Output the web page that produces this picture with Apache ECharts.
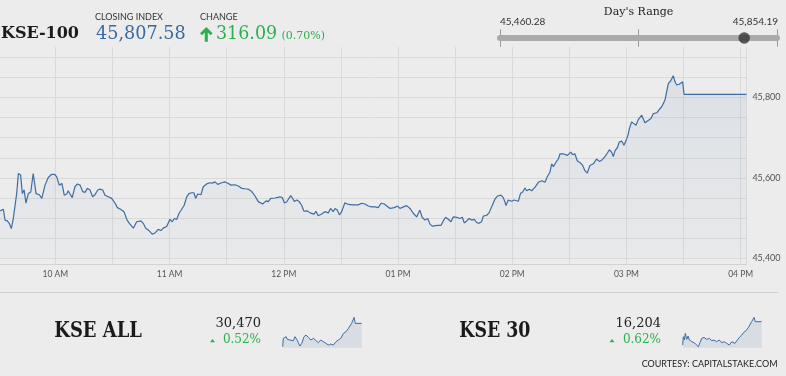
<!DOCTYPE html>
<html><head><meta charset="utf-8">
<script src="https://cdn.jsdelivr.net/npm/echarts@6/dist/echarts.min.js"></script>
<style>html,body{margin:0;padding:0;background:#ececec;}#c{width:786px;height:376px;}</style>
</head><body><div id="c"></div>
<script>
// KSE-100 intraday: minutes after midnight and index values
const kse100Minutes = [571.0,572.7,573.6,574.8,575.8,576.9,577.9,578.8,579.7,580.6,581.8,582.7,583.6,584.6,585.8,587.1,588.4,589.0,589.9,591.6,592.9,593.7,594.6,596.3,598.1,599.5,600.7,602.1,603.5,604.7,606.0,606.8,608.1,608.9,610.3,611.6,613.0,614.4,615.6,616.8,618.2,619.6,620.8,622.3,623.5,624.9,626.1,627.8,629.6,631.4,632.6,634.3,636.1,637.5,638.9,640.1,641.0,642.7,645.0,646.2,647.5,649.2,650.9,652.4,654.1,655.5,656.7,658.5,660.2,661.4,662.5,663.8,665.0,666.4,667.7,669.0,670.2,671.6,672.8,673.7,674.8,676.5,677.7,679.5,681.2,682.5,683.9,685.3,687.4,689.1,690.9,692.3,694.4,696.1,697.9,699.6,701.4,703.2,704.9,706.6,708.9,710.7,711.9,713.1,715.4,718.0,719.2,720.3,721.5,723.6,724.7,725.5,726.8,728.1,729.4,730.6,732.3,733.8,735.9,736.9,738.1,739.9,741.6,743.4,744.6,746.0,746.9,748.1,749.2,750.4,752.1,753.9,756.5,759.1,760.9,762.7,764.4,766.2,768.0,769.6,771.1,772.8,775.8,778.0,779.8,781.0,782.8,784.5,786.3,788.0,788.9,789.8,791.5,792.7,794.2,795.6,796.8,798.0,799.0,800.8,802.6,803.8,805.0,806.4,807.8,809.0,810.8,812.5,813.8,814.8,816.1,817.3,818.7,820.1,821.3,822.5,823.9,824.8,826.6,827.8,829.2,830.0,830.9,832.3,834.1,835.3,836.2,836.7,837.9,839.7,840.9,843.2,844.4,845.5,846.7,847.6,849.0,850.2,852.0,853.7,855.5,857.2,858.4,859.8,860.7,861.6,863.0,864.2,865.1,866.8,867.7,869.0,869.4,870.7,871.7,872.9,874.2,875.9,877.0,878.2,879.4,880.8,882.6,884.3,885.7,887.0,888.7,890.0,891.0,892.2,893.1,894.0,895.2,896.2,897.5,898.7,900.1,900.9,901.5,902.7,903.9,905.0,906.2,908.0,908.8,909.7,911.4,912.9,914.1,915.9,917.2,918.5,920.2,921.1,922.0,923.2,924.6,925.5,926.4,927.7,928.6,929.5,930.3,963];
const kse100Values = [45518,45522,45495,45493,45487,45474,45498,45497,45561,45611,45607,45561,45570,45537,45561,45565,45611,45609,45561,45558,45549,45545,45582,45601,45609,45609,45603,45582,45586,45557,45560,45568,45557,45551,45578,45585,45582,45566,45564,45574,45570,45553,45558,45570,45572,45570,45557,45553,45549,45537,45526,45522,45516,45497,45487,45480,45475,45491,45493,45487,45475,45469,45460.28,45463,45472,45469,45475,45479,45497,45491,45499,45497,45512,45522,45532,45553,45561,45563,45563,45549,45560,45558,45578,45585,45588,45587,45590,45584,45588,45590,45586,45582,45583,45580,45574,45573,45572,45566,45555,45541,45535,45543,45541,45549,45550,45553,45551,45538,45540,45556,45549,45541,45545,45541,45532,45517,45518,45513,45510,45517,45506,45510,45516,45513,45524,45516,45524,45520,45508,45516,45538,45534,45533,45533,45537,45535,45530,45528,45528,45526,45537,45535,45524,45526,45530,45524,45528,45531,45524,45512,45514,45503,45520,45502,45495,45499,45485,45480,45484,45482,45482,45493,45502,45497,45491,45503,45502,45499,45502,45488,45493,45499,45495,45497,45489,45487,45491,45505,45507,45513,45528,45524,45547,45555,45557,45551,45540,45531,45545,45542,45545,45542,45562,45565,45575,45568,45572,45568,45577,45589,45593,45589,45603,45614,45635,45628,45639,45647,45660,45660,45664,45656,45652,45664,45658,45660,45642,45637,45631,45618,45612,45631,45635,45647,45641,45644,45653,45662,45670,45664,45653,45668,45675,45689,45692,45681,45697,45708,45722,45739,45735,45731,45745,45756,45752,45737,45743,45748,45760,45762,45770,45777,45793,45814,45835,45841,45854.19,45839,45831,45833,45831,45839,45807.58,45807.58];

const hourLabels = ['10 AM','11 AM','12 PM','01 PM','02 PM','03 PM','04 PM'];
const yTickLabels = ['45,400','45,600','45,800'];

const closingIndex = 45807.58;
const changePoints = 316.09;
const changePct = 0.70;
const dayLow = 45460.28;
const dayHigh = 45854.19;

// KSE ALL sparkline
const kseAllMinutes = [570,573,582,587,593,600,607,615,623,631,640,648,656,665,676,686,698,709,723,736,747,759,772,786,797,809,822,835,847,859,872,885,897,905,913,925,931,963];
const kseAllValues = [30330,30380,30370,30390,30374,30386,30370,30380,30366,30390,30374,30354,30334,30350,30390,30400,30386,30370,30380,30366,30354,30370,30360,30350,30340,30346,30340,30360,30370,30380,30410,30420,30440,30434,30470,30506,30470,30470];
const kseAllLast = 30470, kseAllPct = 0.52;

// KSE 30 sparkline
const kse30Minutes = [570,573,578,583,590,597,603,610,616,623,631,640,648,656,665,676,689,703,714,726,739,752,764,776,789,802,814,822,830,842,852,864,872,885,897,905,913,925,931,963];
const kse30Values = [16134,16159,16149,16169,16151,16161,16149,16154,16144,16149,16139,16134,16129,16141,16154,16157,16151,16154,16147,16149,16144,16149,16141,16144,16139,16134,16144,16147,16139,16149,16157,16164,16171,16177,16187,16184,16204,16217,16204,16204];
const kse30Last = 16204, kse30Pct = 0.62;

const fmt = (v, d) => v.toLocaleString('en-US', {minimumFractionDigits: d, maximumFractionDigits: d});

const chart = echarts.init(document.getElementById('c'), null, {renderer: 'canvas'});
const LINE = '#3d6da3';
const GREEN = '#2bb04b';
const GRIDC = '#dadada';
const X_MIN = 570, X_MAX = 963;

function txt(x, y, text, font, fill, align, valign, sx) {
  return {type: 'text', x: x, y: y, silent: true, scaleX: sx || 1,
    style: {text: text, font: font, fill: fill, align: align || 'left', verticalAlign: valign || 'middle',
            textAlign: align || 'left', textVerticalAlign: valign || 'middle'}};
}
const G = (o) => Object.assign({containLabel: false, outerBoundsMode: 'none'}, o);

const option = {
  backgroundColor: '#ececec',
  animation: false,
  grid: [
    G({left: -1.8, width: 748.2, top: 47, height: 217}),
    G({left: -1.8, width: 748.2, top: 57.3, height: 201}),
    G({left: 500, width: 277, top: 29.3, height: 17.4}),
    G({left: 282.7, width: 79, top: 316.7, height: 31}),
    G({left: 682.7, width: 79, top: 316.7, height: 31})
  ],
  xAxis: [
    {gridIndex: 0, type: 'value', min: X_MIN, max: X_MAX, interval: 30,
      axisLine: {show: true, lineStyle: {color: '#d2d2d2', width: 1}},
      axisTick: {show: false},
      axisLabel: {color: '#555', fontFamily: 'Lato', fontSize: 8.5, margin: 6,
        formatter: v => (v % 60 === 0 && v >= 600 && v <= 960) ? hourLabels[(v - 600) / 60] : ''},
      splitLine: {show: true, lineStyle: {color: GRIDC, width: 1}}},
    {gridIndex: 1, type: 'value', min: X_MIN, max: X_MAX, show: false},
    {gridIndex: 2, type: 'value', min: dayLow, max: dayHigh, interval: (dayHigh - dayLow) / 2, offset: -8.7,
      axisLine: {show: true, lineStyle: {color: '#aaaaaa', width: 6}},
      axisTick: {show: false}, axisLabel: {show: false},
      splitLine: {show: true, lineStyle: {color: '#999', width: 1}}},
    {gridIndex: 3, type: 'value', min: X_MIN, max: X_MAX, show: false},
    {gridIndex: 4, type: 'value', min: X_MIN, max: X_MAX, show: false}
  ],
  yAxis: [
    {gridIndex: 0, type: 'value', min: 0, max: 1, show: false},
    {gridIndex: 1, type: 'value', min: 45400, max: 45900, interval: 50, position: 'right',
      axisLine: {show: false}, axisTick: {show: false},
      axisLabel: {color: '#555', fontFamily: 'Lato', fontSize: 9, margin: 6,
        formatter: v => { const i = (v - 45400) / 200; return Number.isInteger(i) ? yTickLabels[i] : ''; }},
      splitLine: {show: true, lineStyle: {color: GRIDC, width: 1}}},
    {gridIndex: 2, type: 'value', min: 0, max: 2, show: false},
    {gridIndex: 3, type: 'value', min: v => v.min - 6, max: v => v.max + 4, show: false},
    {gridIndex: 4, type: 'value', min: v => v.min - 3, max: v => v.max + 2, show: false}
  ],
  series: [
    {type: 'line', xAxisIndex: 1, yAxisIndex: 1, symbol: 'none', showSymbol: false,
      data: kse100Minutes.map((t, i) => [t, kse100Values[i]]),
      lineStyle: {color: LINE, width: 1.2},
      areaStyle: {color: new echarts.graphic.LinearGradient(0, 0, 0, 1, [
        {offset: 0, color: 'rgba(61,109,163,0.13)'}, {offset: 1, color: 'rgba(61,109,163,0.03)'}])}},
    {type: 'scatter', xAxisIndex: 2, yAxisIndex: 2, symbolSize: 11.5, data: [[closingIndex, 1]],
      itemStyle: {color: '#333'}, z: 5},
    {type: 'line', xAxisIndex: 3, yAxisIndex: 3, symbol: 'none',
      data: kseAllMinutes.map((t, i) => [t, kseAllValues[i]]),
      lineStyle: {color: LINE, width: 1}, areaStyle: {color: 'rgba(61,109,163,0.16)'}},
    {type: 'line', xAxisIndex: 4, yAxisIndex: 4, symbol: 'none',
      data: kse30Minutes.map((t, i) => [t, kse30Values[i]]),
      lineStyle: {color: LINE, width: 1}, areaStyle: {color: 'rgba(61,109,163,0.16)'}}
  ],
  graphic: [
    txt(1, 34.3, 'KSE-100', 'bold 16px "DejaVu Serif"', '#1b1b1b'),
    txt(95, 17, 'CLOSING INDEX', '9px Lato', '#333'),
    txt(96, 34.3, fmt(closingIndex, 2), '18px "DejaVu Serif"', '#3a6aa0', 'left', 'middle', 0.98),
    txt(200, 17, 'CHANGE', '9px Lato', '#333'),
    {type: 'polygon', silent: true, shape: {points: [[206.3,27],[212.6,33.3],[210.6,35.3],[207.8,32.5],[207.8,41.7],[204.8,41.7],[204.8,32.5],[202,35.3],[200,33.3]]}, style: {fill: GREEN}},
    txt(216, 34.3, fmt(changePoints, 2), '18px "DejaVu Serif"', GREEN, 'left', 'middle', 0.97),
    txt(281.5, 36.5, '(' + fmt(changePct, 2) + '%)', '11px "DejaVu Serif"', GREEN),
    txt(638.6, 12, "Day's Range", '11px "DejaVu Serif"', '#222', 'center'),
    txt(500, 21.5, fmt(dayLow, 2), '10px Lato', '#333'),
    txt(778, 21.5, fmt(dayHigh, 2), '10px Lato', '#333', 'right'),
    {type: 'line', silent: true, shape: {x1: 0, y1: 292.5, x2: 778, y2: 292.5}, style: {stroke: '#cfcfcf', lineWidth: 1}},
    txt(54.3, 330.8, 'KSE ALL', 'bold 22px "DejaVu Serif"', '#1b1b1b', 'left', 'middle', 0.815),
    txt(261, 323.5, fmt(kseAllLast, 0), '13px "DejaVu Serif"', '#222', 'right'),
    {type: 'polygon', silent: true, shape: {points: [[210,342.3],[212.5,339],[215,342.3]]}, style: {fill: GREEN}},
    txt(261, 339.7, fmt(kseAllPct, 2) + '%', '12px "DejaVu Serif"', GREEN, 'right'),
    txt(459.3, 330.8, 'KSE 30', 'bold 22px "DejaVu Serif"', '#1b1b1b', 'left', 'middle', 0.79),
    txt(661, 323.5, fmt(kse30Last, 0), '13px "DejaVu Serif"', '#222', 'right'),
    {type: 'polygon', silent: true, shape: {points: [[609.5,342.3],[612,339],[614.5,342.3]]}, style: {fill: GREEN}},
    txt(661, 339.7, fmt(kse30Pct, 2) + '%', '12px "DejaVu Serif"', GREEN, 'right'),
    txt(777.5, 364.5, 'COURTESY: CAPITALSTAKE.COM', '9px Lato', '#222', 'right')
  ]
};
chart.setOption(option);
</script></body></html>
